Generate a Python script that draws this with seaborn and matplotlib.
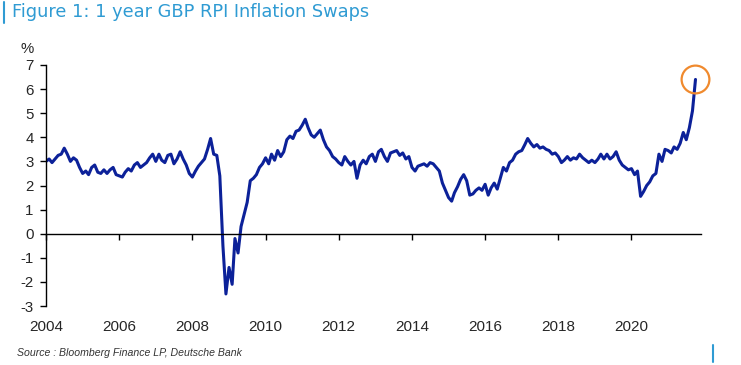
import matplotlib
matplotlib.use("Agg")
import matplotlib.pyplot as plt
import matplotlib.dates as mdates
from matplotlib.lines import Line2D
import seaborn as sns
import pandas as pd

# monthly 1y GBP RPI inflation swap rate (%), Jan 2004 - Oct 2021
swap = [
    # 2004
    3.0, 3.1, 2.95, 3.1, 3.25, 3.3, 3.55, 3.3, 3.0, 3.15, 3.05, 2.75,
    # 2005
    2.5, 2.6, 2.45, 2.75, 2.85, 2.55, 2.5, 2.65, 2.5, 2.65, 2.75, 2.45,
    # 2006
    2.4, 2.35, 2.55, 2.7, 2.6, 2.85, 2.95, 2.75, 2.85, 2.95, 3.15, 3.3,
    # 2007
    3.0, 3.3, 3.05, 2.95, 3.25, 3.3, 2.9, 3.1, 3.4, 3.1, 2.85, 2.5,
    # 2008
    2.35, 2.6, 2.8, 2.95, 3.1, 3.5, 3.95, 3.3, 3.25, 2.4, -0.5, -2.5,
    # 2009
    -1.4, -2.1, -0.2, -0.8, 0.3, 0.8, 1.3, 2.2, 2.3, 2.45, 2.75, 2.9,
    # 2010
    3.15, 2.9, 3.3, 3.05, 3.45, 3.2, 3.4, 3.9, 4.05, 3.95, 4.25, 4.3,
    # 2011
    4.5, 4.75, 4.4, 4.1, 4.0, 4.15, 4.3, 3.9, 3.6, 3.45, 3.2, 3.1,
    # 2012
    2.95, 2.85, 3.2, 3.0, 2.85, 3.0, 2.3, 2.85, 3.05, 2.9, 3.2, 3.3,
    # 2013
    3.0, 3.4, 3.5, 3.2, 3.0, 3.35, 3.4, 3.45, 3.25, 3.35, 3.1, 3.2,
    # 2014
    2.75, 2.6, 2.8, 2.85, 2.9, 2.8, 2.95, 2.9, 2.75, 2.6, 2.1, 1.8,
    # 2015
    1.5, 1.35, 1.7, 1.95, 2.25, 2.45, 2.2, 1.6, 1.65, 1.8, 1.9, 1.8,
    # 2016
    2.05, 1.6, 1.9, 2.1, 1.85, 2.3, 2.75, 2.6, 2.95, 3.05, 3.3, 3.4,
    # 2017
    3.45, 3.7, 3.95, 3.75, 3.6, 3.7, 3.55, 3.6, 3.5, 3.45, 3.3, 3.35,
    # 2018
    3.2, 2.95, 3.05, 3.2, 3.05, 3.15, 3.1, 3.3, 3.15, 3.05, 2.95, 3.05,
    # 2019
    2.95, 3.1, 3.3, 3.1, 3.3, 3.1, 3.2, 3.4, 3.05, 2.85, 2.75, 2.65,
    # 2020
    2.7, 2.45, 2.6, 1.55, 1.75, 2.0, 2.15, 2.4, 2.5, 3.3, 3.0, 3.5,
    # 2021
    3.45, 3.35, 3.6, 3.5, 3.75, 4.2, 3.9, 4.4, 5.1, 6.4,
]
start_month = "2004-01-01"
x_start = "2004-01-01"
x_end = "2021-11-25"
y_ticks = list(range(-3, 8))

title = "Figure 1: 1 year GBP RPI Inflation Swaps"
source = "Source : Bloomberg Finance LP, Deutsche Bank"

df = pd.DataFrame({
    "date": pd.date_range(start_month, periods=len(swap), freq="MS"),
    "swap": swap,
})

sns.set_style("white")
plt.rcParams["font.family"] = ["Liberation Sans", "DejaVu Sans"]

line_blue = "#0c2199"
title_blue = "#2f9bd3"
orange = "#f08a2e"

fig = plt.figure(figsize=(7.41, 3.65), dpi=100)
ax = fig.add_axes([46 / 741, 59 / 365, 655 / 741, 241 / 365])

sns.lineplot(data=df, x="date", y="swap", ax=ax, color=line_blue, linewidth=2.2)

# highlight latest print
last = df.iloc[[-1]]
ax.plot(last["date"], last["swap"], marker="o", markersize=20, markerfacecolor="none",
        markeredgecolor=orange, markeredgewidth=1.6, linestyle="none", clip_on=False)

ax.set_xlim(pd.Timestamp(x_start), pd.Timestamp(x_end))
ax.set_ylim(-3, 7)
ax.set_yticks(y_ticks)
ax.set_yticklabels([str(v) for v in y_ticks])
ax.set_xlabel("")
ax.set_ylabel("")

for side in ["top", "right"]:
    ax.spines[side].set_visible(False)
ax.spines["left"].set_color("black")
ax.spines["left"].set_linewidth(1.0)
ax.spines["bottom"].set_position(("data", 0))
ax.spines["bottom"].set_color("black")
ax.spines["bottom"].set_linewidth(1.0)

ax.xaxis.set_major_locator(mdates.YearLocator(2))
ax.tick_params(axis="x", direction="out", length=4, width=1, color="black", labelbottom=False)
ax.tick_params(axis="y", direction="out", length=4, width=1, color="black",
               labelsize=10.8, pad=5, left=True)

# year labels along the bottom edge
ax2 = ax.twiny()
ax2.set_xlim(ax.get_xlim())
ax2.xaxis.set_ticks_position("bottom")
ax2.xaxis.set_major_locator(mdates.YearLocator(2))
ax2.xaxis.set_major_formatter(mdates.DateFormatter("%Y"))
ax2.tick_params(axis="x", length=0, labelsize=11, pad=10)
for side in ax2.spines:
    ax2.spines[side].set_visible(False)

fig.text(27 / 741, 1 - 49 / 365, "%", ha="center", va="center", fontsize=10.8)

fig.text(12 / 741, 1 - 12 / 365, title, ha="left", va="center", fontsize=12.8,
         color=title_blue, family=["DejaVu Sans"])
fig.add_artist(Line2D([4 / 741, 4 / 741], [1 - 2 / 365, 1 - 23 / 365],
                      transform=fig.transFigure, color=title_blue, linewidth=1.5))

fig.text(17 / 741, 1 - 353 / 365, source, ha="left", va="center", fontsize=7.6,
         style="italic", color="#333333", family=["Liberation Sans Narrow", "Liberation Sans", "DejaVu Sans"])
fig.add_artist(Line2D([713 / 741, 713 / 741], [1 - 345 / 365, 1 - 362 / 365],
                      transform=fig.transFigure, color=title_blue, linewidth=1.5))

fig.savefig("out.png", dpi=100)
